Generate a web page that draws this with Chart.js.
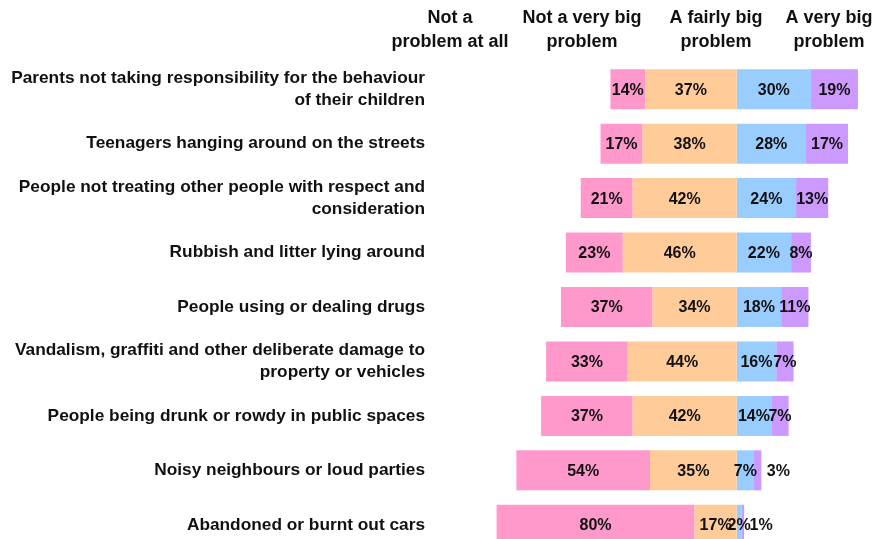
<!DOCTYPE html>
<html>
<head>
<meta charset="utf-8">
<script src="https://cdn.jsdelivr.net/npm/chart.js@4.4.1/dist/chart.umd.min.js"></script>
<style>
  html, body { margin: 0; padding: 0; background: #fff; overflow: hidden; }
  #wrap { position: relative; width: 876px; height: 539px; overflow: hidden; }
</style>
</head>
<body>
<div id="wrap"><canvas id="graphique" width="876" height="552"></canvas></div>
<script>
const categories = [
   ["Parents not taking responsibility for the behaviour", "of their children"],
   "Teenagers hanging around on the streets",
   ["People not treating other people with respect and", "consideration"],
   "Rubbish and litter lying around",
   "People using or dealing drugs",
   ["Vandalism, graffiti and other deliberate damage to", "property or vehicles"],
   "People being drunk or rowdy in public spaces",
   "Noisy neighbours or loud parties",
   "Abandoned or burnt out cars"
];

const headers = [
   ["Not a", "problem at all"],
   ["Not a very big", "problem"],
   ["A fairly big", "problem"],
   ["A very big", "problem"]
];

const notAtAll   = [14, 17, 21, 23, 37, 33, 37, 54, 80];
const notVeryBig = [37, 38, 42, 46, 34, 44, 42, 35, 17];
const fairlyBig  = [30, 28, 24, 22, 18, 16, 14, 7, 2];
const veryBig    = [19, 17, 13, 8, 11, 7, 7, 3, 1];

const FONT = "'Liberation Sans', Arial, sans-serif";
const ctx = document.getElementById('graphique');

// value labels inside the segments (tiny purple ones go outside the bar)
const valueLabels = {
   id: 'valueLabels',
   afterDatasetsDraw(chart) {
      const c = chart.ctx;
      c.save();
      c.font = 'bold 16px ' + FONT;
      c.fillStyle = '#111';
      c.textBaseline = 'middle';
      c.textAlign = 'center';
      chart.data.datasets.forEach((ds, i) => {
         const meta = chart.getDatasetMeta(i);
         meta.data.forEach((bar, j) => {
            const v = Math.abs(ds.data[j]);
            const txt = v + '%';
            let x = (bar.x + bar.base) / 2;
            if (ds.outside && v <= 3) x = Math.max(bar.x, bar.base) + 17;
            c.fillText(txt, x, bar.y + 1);
         });
      });
      c.restore();
   }
};

// column headings over the chart
const headerPos = [450, 582, 716, 829];
const columnHeaders = {
   id: 'columnHeaders',
   afterDraw(chart) {
      const c = chart.ctx;
      c.save();
      c.font = 'bold 18px ' + FONT;
      c.fillStyle = '#111';
      c.textAlign = 'center';
      c.textBaseline = 'middle';
      headers.forEach((h, i) => {
         h.forEach((line, k) => c.fillText(line, headerPos[i], 18 + k * 24));
      });
      c.restore();
   }
};

const myChart = new Chart(ctx, {
   type: 'bar',
   data: {
      labels: categories,
      datasets: [
         { label: 'Not a very big problem', data: notVeryBig.map(v => -v), backgroundColor: '#FFCC99' },
         { label: 'Not a problem at all', data: notAtAll.map(v => -v), backgroundColor: '#FF99CC' },
         { label: 'A fairly big problem', data: fairlyBig, backgroundColor: '#99CCFF' },
         { label: 'A very big problem', data: veryBig, backgroundColor: '#CC99FF', outside: true }
      ]
   },
   options: {
      indexAxis: 'y',
      responsive: false,
      animation: false,
      datasets: {
         bar: { categoryPercentage: 1, barPercentage: 0.735, borderWidth: 0 }
      },
      layout: { padding: { top: 62, bottom: 0, left: 0, right: 0 } },
      scales: {
         x: {
            stacked: true,
            display: false,
            min: -123.9,
            max: 56.3
         },
         y: {
            stacked: true,
            grid: { display: false, drawTicks: false },
            border: { display: false },
            ticks: {
               autoSkip: false,
               padding: 5,
               color: '#111',
               font: { family: FONT, size: 17.3, weight: 'bold', lineHeight: 1.27 }
            },
            afterFit(scale) {
               scale.width = 430;
               scale.paddingTop = 0;
               scale.paddingBottom = 0;
            }
         }
      },
      plugins: {
         legend: { display: false },
         tooltip: { enabled: false }
      }
   },
   plugins: [valueLabels, columnHeaders]
});
</script>
</body>
</html>
